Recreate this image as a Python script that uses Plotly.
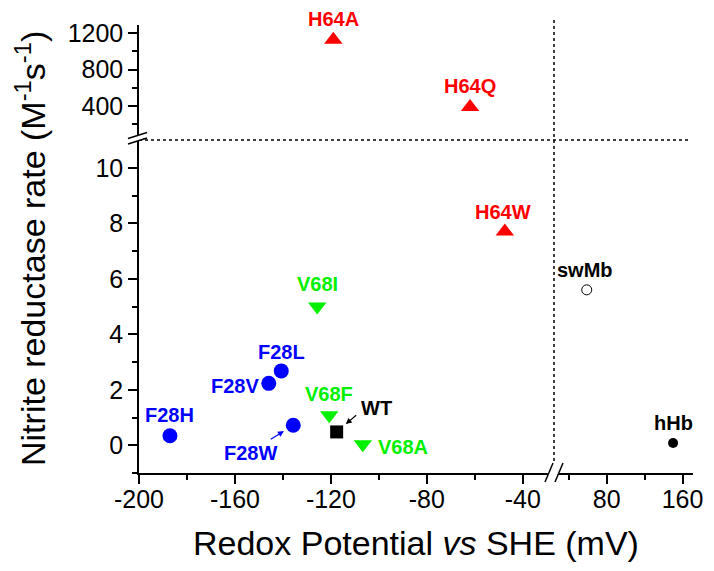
import plotly.graph_objects as go

# ---------------- data ----------------
h64_labels = ["H64A", "H64Q", "H64W"]
h64_x = [-119, -62, -47.5]
h64_y = [1130, 390, 7.7]

v68_labels = ["V68I", "V68F", "V68A"]
v68_x = [-125.7, -120.7, -106.7]
v68_y = [5.0, 1.08, 0.04]

f28_labels = ["F28H", "F28V", "F28L", "F28W"]
f28_x = [-187.1, -145.9, -140.7, -135.7]
f28_y = [0.34, 2.23, 2.68, 0.72]

wt_labels = ["WT"]
wt_x = [-117.6]
wt_y = [0.48]

swmb_labels = ["swMb"]
swmb_x = [59]
swmb_y = [5.6]

hhb_labels = ["hHb"]
hhb_x = [150]
hhb_y = [0.08]

x_left_ticks = [-200, -160, -120, -80, -40]
x_left_text = ["-200", "-160", "-120", "-80", "-40"]
x_right_ticks = [80, 160]
x_right_text = ["80", "160"]
y_low_ticks = [0, 2, 4, 6, 8, 10]
y_low_text = ["0", "2", "4", "6", "8", "10"]
y_high_ticks = [400, 800, 1200]
y_high_text = ["400", "800", "1200"]

Y_BREAK = 11  # values above go in the top panel

# ---------------- styles ----------------
RED = "#FF0000"
GREEN = "#00F000"
BLUE = "#0000FF"
BLACK = "#000000"
FONT = "Liberation Sans, Arial, sans-serif"

# label offsets in pixels (xshift, yshift)
label_shift = {
    "H64A": (0, 21), "H64Q": (0, 21), "H64W": (-2, 20),
    "V68I": (0, 23), "V68F": (0, 21), "V68A": (40, -3),
    "F28H": (0, 21), "F28V": (-34, -3), "F28L": (0, 19), "F28W": (-43, -28),
    "WT": (40, 24), "swMb": (-2, 20), "hHb": (0, 20),
}

W, H = 714, 571
OFF = 8  # page body margin
# target plot area in screen pixels
SX0, SX1, SY0, SY1 = 139, 693, 25, 473
L, T = SX0 - OFF, SY0 - OFF
R, B = W - (SX1 - OFF), H - (SY1 - OFF)
PW, PH = SX1 - SX0, SY1 - SY0


def px(xp):
    return (xp - SX0) / PW


def py(yp):
    return (SY1 - yp) / PH


XSPLIT = px(554)
YSPLIT = py(140)

fig = go.Figure()
annotations = []


def add_group(labels, xs, ys, color, symbol, size, right=False, line=None, fill=None):
    for lab, xv, yv in zip(labels, xs, ys):
        xa = "x2" if right else "x"
        ya = "y2" if yv > Y_BREAK else "y"
        fig.add_trace(go.Scatter(
            x=[xv], y=[yv], mode="markers", xaxis=xa, yaxis=ya,
            marker=dict(symbol=symbol, size=size, color=fill if fill else color,
                        line=dict(width=line[1] if line else 0,
                                  color=line[0] if line else color)),
            showlegend=False, hoverinfo="skip"))
        dx, dy = label_shift[lab]
        annotations.append(dict(
            x=xv, y=yv, xref=xa, yref=ya, text="<b>%s</b>" % lab,
            showarrow=False, xshift=dx, yshift=dy,
            xanchor="center", yanchor="middle",
            font=dict(family=FONT, size=20, color=color)))


add_group(h64_labels, h64_x, h64_y, RED, "triangle-up", 16)
add_group(v68_labels, v68_x, v68_y, GREEN, "triangle-down", 16)
add_group(f28_labels, f28_x, f28_y, BLUE, "circle", 15)
add_group(wt_labels, wt_x, wt_y, BLACK, "square", 13)
add_group(swmb_labels, swmb_x, swmb_y, BLACK, "circle", 10, right=True,
          line=(BLACK, 1), fill="white")
add_group(hhb_labels, hhb_x, hhb_y, BLACK, "circle", 10, right=True)

# small arrows
annotations.append(dict(x=f28_x[3], y=f28_y[3], xref="x", yref="y", text="",
                        showarrow=True, ax=-24, ay=15, standoff=11,
                        arrowhead=2, arrowsize=1, arrowwidth=1.2, arrowcolor=BLUE))
annotations.append(dict(x=wt_x[0], y=wt_y[0], xref="x", yref="y", text="",
                        showarrow=True, ax=21, ay=-18, standoff=12,
                        arrowhead=2, arrowsize=1, arrowwidth=1.2, arrowcolor=BLACK))

# axis titles
annotations.append(dict(x=0.5, y=py(543), xref="paper", yref="paper",
                        xanchor="center", yanchor="middle",
                        text="Redox Potential <i>vs</i> SHE (mV)", showarrow=False,
                        font=dict(family=FONT, size=34, color=BLACK)))
annotations.append(dict(x=px(30), y=0.5, xref="paper", yref="paper", textangle=-90,
                        xanchor="center", yanchor="middle",
                        text="Nitrite reductase rate (M<sup>-1</sup>s<sup>-1</sup>)",
                        showarrow=False, font=dict(family=FONT, size=34, color=BLACK)))

axis_common = dict(showline=True, linecolor=BLACK, linewidth=1.5, ticks="outside",
                   ticklen=9, tickwidth=1.5, tickcolor=BLACK, showgrid=False,
                   zeroline=False, automargin=False,
                   tickfont=dict(family=FONT, size=25, color=BLACK))

fig.update_layout(
    width=W, height=H, autosize=False,
    margin=dict(l=L, r=R, t=T, b=B),
    paper_bgcolor="white", plot_bgcolor="white",
    xaxis=dict(domain=[0, XSPLIT], range=[-200, -27], anchor="y",
               tickvals=x_left_ticks, ticktext=x_left_text, ticklabelstandoff=-6,
               minor=dict(dtick=20, tick0=0, ticks="outside", ticklen=5,
                          tickwidth=1.5, tickcolor=BLACK, showgrid=False),
               **axis_common),
    xaxis2=dict(domain=[XSPLIT, 1], range=[24.5, 171], anchor="y",
                tickvals=x_right_ticks, ticktext=x_right_text, ticklabelstandoff=-6,
                minor=dict(dtick=40, tick0=0, ticks="outside", ticklen=5,
                           tickwidth=1.5, tickcolor=BLACK, showgrid=False),
                **axis_common),
    yaxis=dict(domain=[0, YSPLIT], range=[-1, 11], anchor="x",
               tickvals=y_low_ticks, ticktext=y_low_text,
               minor=dict(dtick=1, tick0=0, ticks="outside", ticklen=5,
                          tickwidth=1.5, tickcolor=BLACK, showgrid=False),
               **axis_common),
    yaxis2=dict(domain=[YSPLIT, 1], range=[27, 1291], anchor="x",
                tickvals=y_high_ticks, ticktext=y_high_text,
                minor=dict(dtick=200, tick0=0, ticks="outside", ticklen=5,
                           tickwidth=1.5, tickcolor=BLACK, showgrid=False),
                **axis_common),
    annotations=annotations,
)

shapes = []
# dotted separator lines
shapes.append(dict(type="line", xref="paper", yref="paper",
                   x0=px(554), x1=px(554), y0=py(20), y1=0,
                   line=dict(color=BLACK, width=1.5, dash="dot")))
shapes.append(dict(type="line", xref="paper", yref="paper",
                   x0=0, x1=px(688), y0=YSPLIT, y1=YSPLIT,
                   line=dict(color=BLACK, width=1.5, dash="dot")))


def path(points):
    s = "M " + " L ".join("%f,%f" % (px(a), py(b)) for a, b in points) + " Z"
    return s


# y-axis break
shapes.append(dict(type="path", xref="paper", yref="paper",
                   path=path([(128, 138.5), (147, 132.5), (147, 138), (128, 144)]),
                   fillcolor="white", line=dict(width=0)))
for (a, b, c, d) in [(128, 138.5, 147, 132.5), (128, 144, 147, 138)]:
    shapes.append(dict(type="line", xref="paper", yref="paper",
                       x0=px(a), y0=py(b), x1=px(c), y1=py(d),
                       line=dict(color=BLACK, width=1.5)))
# x-axis break
shapes.append(dict(type="path", xref="paper", yref="paper",
                   path=path([(545, 482), (553, 463), (563, 463), (555, 482)]),
                   fillcolor="white", line=dict(width=0)))
for (a, b, c, d) in [(545, 482, 553, 463), (555, 482, 563, 463)]:
    shapes.append(dict(type="line", xref="paper", yref="paper",
                       x0=px(a), y0=py(b), x1=px(c), y1=py(d),
                       line=dict(color=BLACK, width=1.5)))

fig.update_layout(shapes=shapes)

fig.write_html("out.html")
